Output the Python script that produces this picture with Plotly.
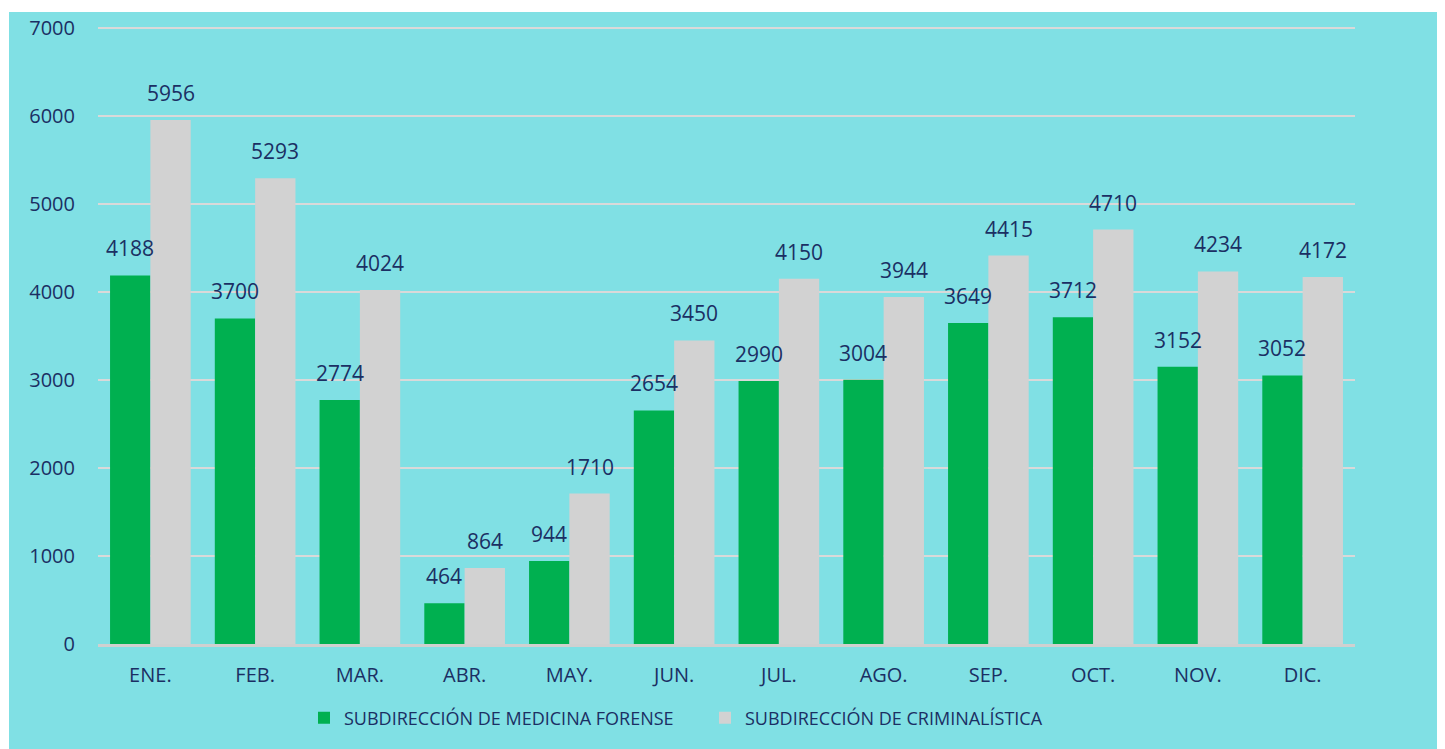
import plotly.graph_objects as go

months = ["ENE.", "FEB.", "MAR.", "ABR.", "MAY.", "JUN.", "JUL.", "AGO.", "SEP.", "OCT.", "NOV.", "DIC."]
medicina = [4188, 3700, 2774, 464, 944, 2654, 2990, 3004, 3649, 3712, 3152, 3052]
criminalistica = [5956, 5293, 4024, 864, 1710, 3450, 4150, 3944, 4415, 4710, 4234, 4172]
y_ticks = [0, 1000, 2000, 3000, 4000, 5000, 6000, 7000]

navy = "#1B2F63"
font_family = "Open Sans, Noto Sans, sans-serif"

# page body adds an 8px offset; figure sized to fit window
W, H = 1437, 741
L, T = 90, 19
R = W - 1347
B = H - 636
pw, ph = W - L - R, H - T - B
BARGAP = 0.23

fig = go.Figure()
fig.add_trace(go.Bar(
    x=months, y=medicina, name="SUBDIRECCIÓN DE MEDICINA FORENSE",
    marker=dict(color="#00B050", line=dict(width=0)),
))
fig.add_trace(go.Bar(
    x=months, y=criminalistica, name="SUBDIRECCIÓN DE CRIMINALÍSTICA",
    marker=dict(color="#D2D2D2", line=dict(width=0)),
))

# data labels above each bar
cat_w = pw / len(months)
half = cat_w * (1 - BARGAP) / 4
annotations = []
for series, shift in ((medicina, -half), (criminalistica, half)):
    for m, v in zip(months, series):
        annotations.append(dict(
            x=m, y=v, xref="x", yref="y", text=str(v), showarrow=False,
            xshift=shift, yshift=11, yanchor="bottom", xanchor="center",
            font=dict(size=21, color=navy, family=font_family),
        ))

legend_left_px = 296  # figure px
fig.update_layout(
    width=W, height=H,
    margin=dict(l=L, r=R, t=T, b=B, autoexpand=False),
    paper_bgcolor="white",
    plot_bgcolor="rgba(0,0,0,0)",
    barmode="group", bargap=BARGAP, bargroupgap=0,
    font=dict(family=font_family, color=navy, size=18),
    showlegend=True,
    legend=dict(orientation="h", x=(legend_left_px - L) / pw, xanchor="left",
                y=-0.09, yanchor="top", entrywidth=356, entrywidthmode="pixels",
                font=dict(size=18, color=navy), itemsizing="constant",
                bgcolor="rgba(0,0,0,0)", traceorder="normal", itemwidth=30),
    xaxis=dict(showgrid=False, showline=True, linecolor="#D0D0D0", linewidth=3,
               tickfont=dict(size=20, color=navy), ticks="", ticklabelstandoff=11),
    yaxis=dict(range=[0, 7012], tickvals=y_ticks, showgrid=True, gridcolor="#D9D9D9",
               gridwidth=2, zeroline=False, showline=False, ticks="",
               tickfont=dict(size=20, color=navy), ticklabelstandoff=22),
    annotations=annotations,
    shapes=[dict(type="rect", xref="paper", yref="paper",
                 x0=(1 - L) / pw, x1=(W - L) / pw + 0.02,
                 y0=-B / ph - 0.02, y1=(H - B - 4) / ph,
                 fillcolor="#80E0E4", line=dict(width=0), layer="below")],
)

fig.write_html("out.html")
